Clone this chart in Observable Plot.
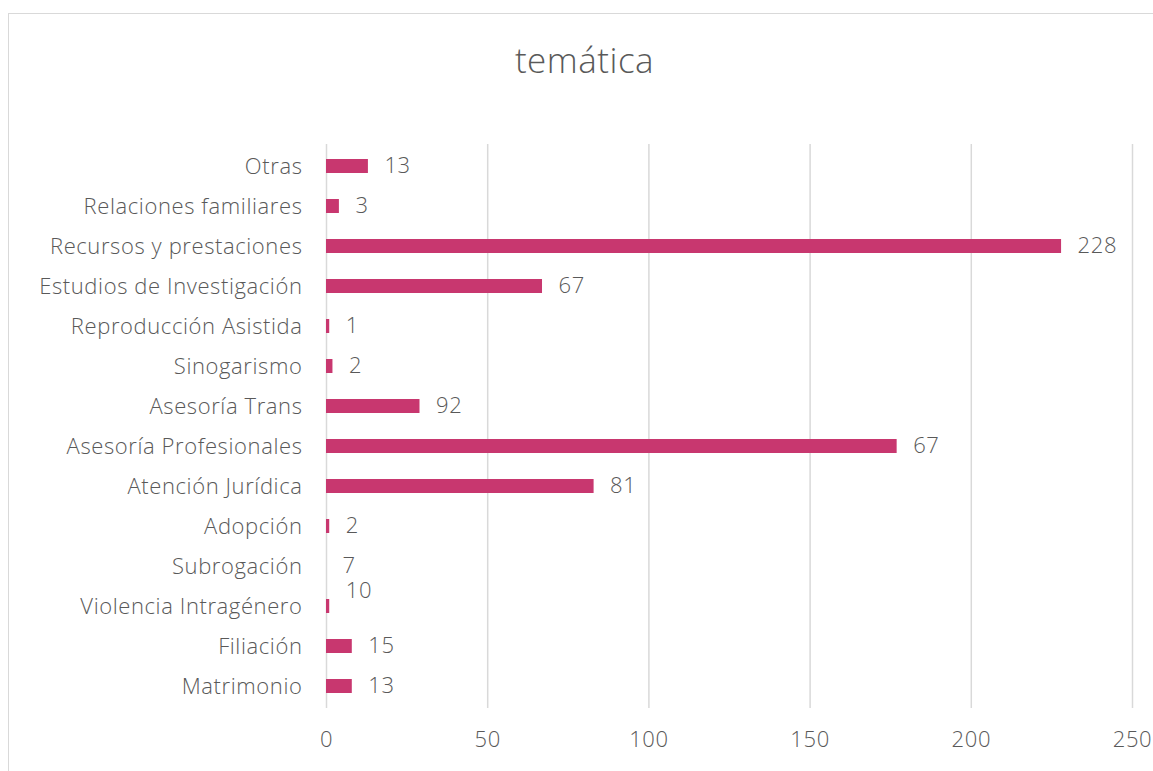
<!DOCTYPE html>
<html>
<head>
<meta charset="utf-8">
<script src="https://cdn.jsdelivr.net/npm/d3@7"></script>
<script src="https://cdn.jsdelivr.net/npm/@observablehq/plot@0.6"></script>
<style>
  html, body { margin: 0; padding: 0; background: #fff; overflow: hidden; }
  body { width: 1153px; height: 771px; position: relative; font-family: "Open Sans", Lato, sans-serif; }
  #frame { position: absolute; left: 8px; top: 13px; width: 1200px; height: 800px; border: 1px solid #d9d9d9; box-sizing: border-box; }
  #title { position: relative; height: 118px; line-height: 120px; text-align: center; font-size: 35px; font-weight: 300; color: #595959; padding-left: 16px; letter-spacing: 0.5px; }
  #chart { position: relative; }
  #chart svg text { letter-spacing: 0.6px; }
</style>
</head>
<body>
<div id="frame"></div>
<div id="title">temática</div>
<div id="chart"></div>
<script>
const categories = ["Otras", "Relaciones familiares", "Recursos y prestaciones", "Estudios de Investigación", "Reproducción Asistida", "Sinogarismo", "Asesoría Trans", "Asesoría Profesionales", "Atención Jurídica", "Adopción", "Subrogación", "Violencia Intragénero", "Filiación", "Matrimonio"];
const barValues = [13, 4, 228, 67, 1, 2, 29, 177, 83, 1, 0, 1, 8, 8];
const labelValues = [13, 3, 228, 67, 1, 2, 92, 67, 81, 2, 7, 10, 15, 13];
const xTicks = [0, 50, 100, 150, 200, 250];

const data = categories.map((c, i) => ({ cat: c, value: barValues[i], label: labelValues[i] }));
const raised = ["Violencia Intragénero"];

const plot = Plot.plot({
  width: 1153,
  height: 653,
  marginLeft: 326,
  marginRight: 21,
  marginTop: 26,
  marginBottom: 63,
  style: { fontFamily: "'Open Sans', Lato, sans-serif", fontSize: "22px", fontWeight: 300, color: "#595959", background: "transparent" },
  x: { domain: [0, 250], ticks: xTicks, tickSize: 0, tickPadding: 23, label: null },
  y: { domain: categories, padding: 0, tickSize: 0, tickPadding: 24, label: null },
  marks: [
    Plot.gridX(xTicks, { stroke: "#d9d9d9", strokeOpacity: 1, strokeWidth: 1.5 }),
    Plot.barX(data, { x: "value", y: "cat", fill: "#c8376f", insetTop: 13, insetBottom: 13 }),
    Plot.text(data.filter(d => !raised.includes(d.cat)), { x: "value", y: "cat", text: d => String(d.label), dx: 16, dy: -1, textAnchor: "start", fill: "#595959", fontSize: 22 }),
    Plot.text(data.filter(d => raised.includes(d.cat)), { x: "value", y: "cat", text: d => String(d.label), dx: 16, dy: -16, textAnchor: "start", fill: "#595959", fontSize: 22 })
  ]
});
document.getElementById("chart").appendChild(plot);
</script>
</body>
</html>
